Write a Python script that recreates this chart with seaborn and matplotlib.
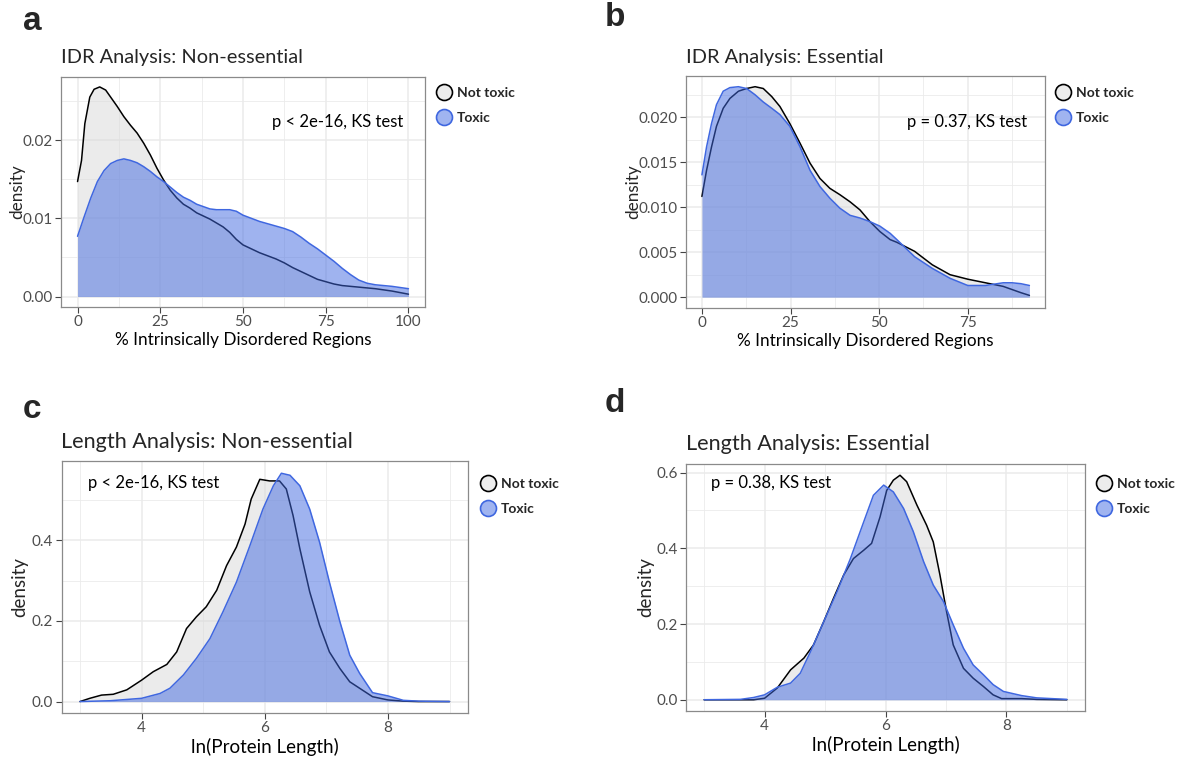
import numpy as np
import pandas as pd
import matplotlib
matplotlib.use("Agg")
import matplotlib.pyplot as plt
import seaborn as sns
from matplotlib.lines import Line2D
from matplotlib.ticker import MultipleLocator

# ---------------- data (density curves) ----------------
groups = ["Not toxic", "Toxic"]

# a: IDR, non-essential
a_nt_x = [0, 1.2, 2.2, 3.7, 5, 6.7, 8.5, 10, 12, 14, 16, 18, 20, 22, 24, 26, 28, 30, 32, 34, 36, 38, 40, 42, 44,
          46, 48, 50, 52.5, 55, 57.5, 60, 62.5, 65, 67.5, 70, 72.5, 75, 77.5, 80, 85, 90, 95, 100]
a_nt_y = [0.0147, 0.0174, 0.0221, 0.0255, 0.0265, 0.0268, 0.0264, 0.0255, 0.0243, 0.0230, 0.0219, 0.0209, 0.0196,
          0.0181, 0.0164, 0.0149, 0.0136, 0.0126, 0.0118, 0.0113, 0.0107, 0.0103, 0.0099, 0.0094, 0.0089, 0.0082,
          0.0073, 0.0066, 0.0061, 0.0056, 0.0052, 0.0048, 0.0043, 0.0037, 0.0032, 0.0027, 0.0022, 0.0019, 0.0016,
          0.0014, 0.0012, 0.0010, 0.0007, 0.0003]
a_tx_x = [0, 2, 4, 6, 8, 10, 12, 14, 16, 18, 20, 22, 24, 26, 28, 30, 32, 34, 36, 38, 40, 42, 44, 46, 48, 50, 52.5,
          55, 57.5, 60, 62.5, 65, 67.5, 70, 72.5, 75, 77.5, 80, 82.5, 85, 87.5, 90, 95, 100]
a_tx_y = [0.0077, 0.0102, 0.0126, 0.0147, 0.0161, 0.0170, 0.0174, 0.0176, 0.0174, 0.0171, 0.0166, 0.0160, 0.0153,
          0.0147, 0.0140, 0.0133, 0.0127, 0.0123, 0.0118, 0.0115, 0.0112, 0.0111, 0.0111, 0.0111, 0.0109, 0.0104,
          0.0100, 0.0096, 0.0093, 0.0090, 0.0087, 0.0083, 0.0076, 0.0068, 0.0061, 0.0053, 0.0045, 0.0036, 0.0028,
          0.0021, 0.0017, 0.0015, 0.0013, 0.0010]

# b: IDR, essential
b_nt_x = [0, 1.3, 2.7, 4.1, 6.0, 7.9, 10.3, 12.6, 15.0, 17.3, 19.7, 22.0, 24.8, 27.7, 30.5, 33.3, 36.1, 38.9, 41.8,
          44.6, 47.4, 50.2, 53.1, 55, 60, 65, 70, 75, 80, 85, 90, 92.4]
b_nt_y = [0.0112, 0.0141, 0.0167, 0.0190, 0.0210, 0.0221, 0.0229, 0.0232, 0.0234, 0.0232, 0.0223, 0.0212, 0.0193,
          0.0171, 0.0149, 0.0132, 0.0121, 0.0114, 0.0106, 0.0097, 0.0084, 0.0073, 0.0064, 0.0061, 0.0051, 0.0036,
          0.0025, 0.0020, 0.0016, 0.0012, 0.0005, 0.0002]
b_tx_x = [0, 1.3, 2.7, 4.1, 6.0, 7.9, 10.3, 12.6, 15.0, 17.3, 19.7, 22.0, 24.8, 27.7, 30.5, 33.3, 36.1, 38.9, 41.8,
          44.6, 47.4, 50.2, 53.1, 55, 60, 65, 70, 75, 80, 85, 87.5, 90, 92.4]
b_tx_y = [0.0136, 0.0167, 0.0193, 0.0214, 0.0229, 0.0233, 0.0234, 0.0232, 0.0225, 0.0217, 0.0210, 0.0203, 0.0190,
          0.0167, 0.0141, 0.0123, 0.0110, 0.0099, 0.0091, 0.0088, 0.0084, 0.0079, 0.0071, 0.0064, 0.0045, 0.0032,
          0.0021, 0.0013, 0.0013, 0.0016, 0.0016, 0.0015, 0.0013]

# c: length, non-essential
c_nt_x = [3.0, 3.16, 3.35, 3.54, 3.76, 4.0, 4.19, 4.41, 4.57, 4.73, 4.89, 5.05, 5.22, 5.38, 5.54, 5.68, 5.78, 5.92,
          6.08, 6.24, 6.35, 6.46, 6.57, 6.73, 6.89, 7.05, 7.22, 7.38, 7.54, 7.75, 8.0, 8.25, 8.5, 9.0]
c_nt_y = [0.000, 0.008, 0.016, 0.018, 0.029, 0.053, 0.074, 0.092, 0.123, 0.181, 0.210, 0.235, 0.276, 0.337, 0.383,
          0.440, 0.502, 0.551, 0.547, 0.547, 0.527, 0.461, 0.379, 0.272, 0.189, 0.123, 0.082, 0.049, 0.033, 0.012,
          0.004, 0.001, 0.000, 0.000]
c_tx_x = [3.0, 3.49, 4.0, 4.30, 4.46, 4.68, 4.89, 5.11, 5.32, 5.54, 5.76, 5.97, 6.14, 6.27, 6.41, 6.57, 6.73, 6.89,
          7.05, 7.22, 7.38, 7.54, 7.75, 8.0, 8.25, 8.5, 9.0]
c_tx_y = [0.000, 0.002, 0.008, 0.020, 0.033, 0.066, 0.107, 0.156, 0.222, 0.296, 0.387, 0.477, 0.535, 0.566, 0.561,
          0.535, 0.477, 0.395, 0.296, 0.198, 0.115, 0.070, 0.022, 0.014, 0.003, 0.001, 0.000]

# d: length, essential
d_nt_x = [3.0, 3.82, 4.0, 4.21, 4.43, 4.65, 4.81, 4.98, 5.14, 5.31, 5.47, 5.64, 5.77, 5.91, 6.02, 6.13, 6.24, 6.35,
          6.52, 6.68, 6.79, 6.90, 7.01, 7.12, 7.29, 7.45, 7.62, 7.78, 7.92, 8.25, 8.5, 9.0]
d_nt_y = [0.000, 0.000, 0.004, 0.031, 0.079, 0.110, 0.145, 0.207, 0.268, 0.330, 0.373, 0.395, 0.413, 0.483, 0.553,
          0.580, 0.593, 0.576, 0.514, 0.461, 0.417, 0.330, 0.233, 0.145, 0.083, 0.057, 0.035, 0.013, 0.003, 0.003,
          0.001, 0.000]
d_tx_x = [3.0, 3.6, 3.82, 4.0, 4.21, 4.43, 4.59, 4.76, 4.98, 5.20, 5.42, 5.64, 5.80, 5.97, 6.13, 6.30, 6.46, 6.63,
          6.79, 6.96, 7.12, 7.29, 7.45, 7.62, 7.78, 7.95, 8.25, 8.5, 9.0]
d_tx_y = [0.000, 0.001, 0.006, 0.013, 0.033, 0.044, 0.070, 0.127, 0.207, 0.286, 0.373, 0.470, 0.540, 0.567, 0.549,
          0.505, 0.444, 0.365, 0.303, 0.259, 0.198, 0.136, 0.092, 0.066, 0.040, 0.022, 0.011, 0.005, 0.001]

titles = ["IDR Analysis: Non-essential", "IDR Analysis: Essential",
          "Length Analysis: Non-essential", "Length Analysis: Essential"]
xlabels = ["% Intrinsically Disordered Regions", "% Intrinsically Disordered Regions",
           "ln(Protein Length)", "ln(Protein Length)"]
pvals = ["p < 2e-16, KS test", "p = 0.37, KS test", "p < 2e-16, KS test", "p = 0.38, KS test"]
letters = ["a", "b", "c", "d"]

# ---------------- styling ----------------
sns.set_style("white")
plt.rcParams['font.family'] = ['Lato', 'DejaVu Sans']

W, H = 1178, 757
fig = plt.figure(figsize=(W / 100, H / 100), dpi=100)

line_cols = {"Not toxic": "black", "Toxic": "#3f67e0"}
fill_cols = {"Not toxic": "#d9d9d9", "Toxic": "#4169e1"}

def px_axes(l, t, r, b):
    return fig.add_axes([l / W, 1 - b / H, (r - l) / W, (b - t) / H])

panels = [
    dict(box=(61, 77, 425, 307), data=[(a_nt_x, a_nt_y), (a_tx_x, a_tx_y)],
         xlim=(-5, 105), ylim=(-0.00134, 0.02807), xmaj=25, ymaj=0.01, yfmt="{:.2f}",
         ptxt=(0.94, 0.804), pha="right", title_xy=(61, 58), tsize=14.4, lsize=12.3,
         lab_xy=(32, 22), ylab_x=17, leg=(444, 91)),
    dict(box=(686, 76, 1045, 307.7), data=[(b_nt_x, b_nt_y), (b_tx_x, b_tx_y)],
         xlim=(-4.5, 96.8), ylim=(-0.00117, 0.02459), xmaj=25, ymaj=0.005, yfmt="{:.3f}",
         ptxt=(0.949, 0.80), pha="right", title_xy=(686, 57), tsize=14.4, lsize=12.3,
         lab_xy=(615, 17), ylab_x=633, leg=(1063, 91)),
    dict(box=(61.5, 461, 468, 713), data=[(c_nt_x, c_nt_y), (c_tx_x, c_tx_y)],
         xlim=(2.7, 9.3), ylim=(-0.0284, 0.5964), xmaj=2, ymaj=0.2, yfmt="{:.1f}",
         ptxt=(0.066, 0.913), pha="left", title_xy=(61, 441.5), tsize=15.6, lsize=13.5,
         lab_xy=(32, 410), ylab_x=20, leg=(487.6, 482)),
    dict(box=(686, 464, 1085, 711), data=[(d_nt_x, d_nt_y), (d_tx_x, d_tx_y)],
         xlim=(2.7, 9.3), ylim=(-0.0297, 0.6227), xmaj=2, ymaj=0.2, yfmt="{:.1f}",
         ptxt=(0.062, 0.923), pha="left", title_xy=(686, 444), tsize=15.6, lsize=13.5,
         lab_xy=(615, 403), ylab_x=646, leg=(1103.5, 482)),
]

grid_col = "#ebebeb"
for i, p in enumerate(panels):
    ax = px_axes(*p["box"])
    ax.set_facecolor("white")
    z = 2
    for g, (xs, ys) in zip(groups, p["data"]):
        df = pd.DataFrame({"x": xs, "density": ys})
        ax.fill_between(df["x"], 0, df["density"], color=fill_cols[g], alpha=0.5, lw=0, zorder=z)
        sns.lineplot(data=df, x="x", y="density", color=line_cols[g], lw=1.1, ax=ax, zorder=z + 1)
        z += 2
    ax.set_xlim(*p["xlim"])
    ax.set_ylim(*p["ylim"])
    ax.xaxis.set_major_locator(MultipleLocator(p["xmaj"]))
    ax.xaxis.set_minor_locator(MultipleLocator(p["xmaj"] / 2))
    ax.yaxis.set_major_locator(MultipleLocator(p["ymaj"]))
    ax.yaxis.set_minor_locator(MultipleLocator(p["ymaj"] / 2))
    yt = [t for t in ax.get_yticks() if p["ylim"][0] <= t <= p["ylim"][1]]
    ax.set_yticks(yt)
    ax.set_yticklabels([p["yfmt"].format(abs(t) if abs(t) < 1e-12 else t) for t in yt])
    ax.grid(True, which="major", color=grid_col, lw=1.1, zorder=0)
    ax.grid(True, which="minor", color=grid_col, lw=0.6, zorder=0)
    ax.set_axisbelow(True)
    for s in ax.spines.values():
        s.set_color("#8a8a8a")
        s.set_linewidth(0.9)
    ax.tick_params(axis="both", which="major", direction="out", length=4, width=0.8,
                   color="#444444", labelcolor="#4d4d4d", labelsize=11, pad=2, bottom=True, left=True)
    ax.tick_params(axis="both", which="minor", length=0)
    ax.set_xlabel(xlabels[i], fontsize=p["lsize"], color="black", labelpad=2)
    ax.set_ylabel("")
    cy = (p["box"][1] + p["box"][3]) / 2
    fig.text(p["ylab_x"] / W, 1 - cy / H, "density", rotation=90, ha="center", va="center", fontsize=p["lsize"])
    fig.text(p["title_xy"][0] / W, 1 - p["title_xy"][1] / H, titles[i], ha="left", va="center",
             fontsize=p["tsize"])
    fig.text(p["lab_xy"][0] / W, 1 - p["lab_xy"][1] / H, letters[i], ha="center", va="center",
             fontsize=24, fontweight="bold", family=["Liberation Sans", "DejaVu Sans"])
    ax.text(p["ptxt"][0], p["ptxt"][1], pvals[i], transform=ax.transAxes, ha=p["pha"], va="center",
            fontsize=12, color="black", zorder=10)
    # legend
    handles = [Line2D([0], [0], marker="o", ls="none", markersize=11.5, markerfacecolor="#ececec",
                      markeredgecolor="black", markeredgewidth=1.2),
               Line2D([0], [0], marker="o", ls="none", markersize=11.5, markerfacecolor="#a0b4f0",
                      markeredgecolor="#3f67e0", markeredgewidth=1.2)]
    fs = 10
    hl = 1.2
    hpx = hl * fs * 100 / 72
    cx, cy1 = p["leg"]
    x0 = cx - hpx / 2
    fig.legend(handles, groups, loc="upper left", bbox_to_anchor=(x0 / W, 1 - (cy1 - 4) / H),
               frameon=False, prop={"weight": "bold", "size": fs}, handletextpad=0.35,
               labelspacing=0.95, borderaxespad=0, borderpad=0, handlelength=hl)

fig.savefig("out.png", dpi=100, facecolor="white")
